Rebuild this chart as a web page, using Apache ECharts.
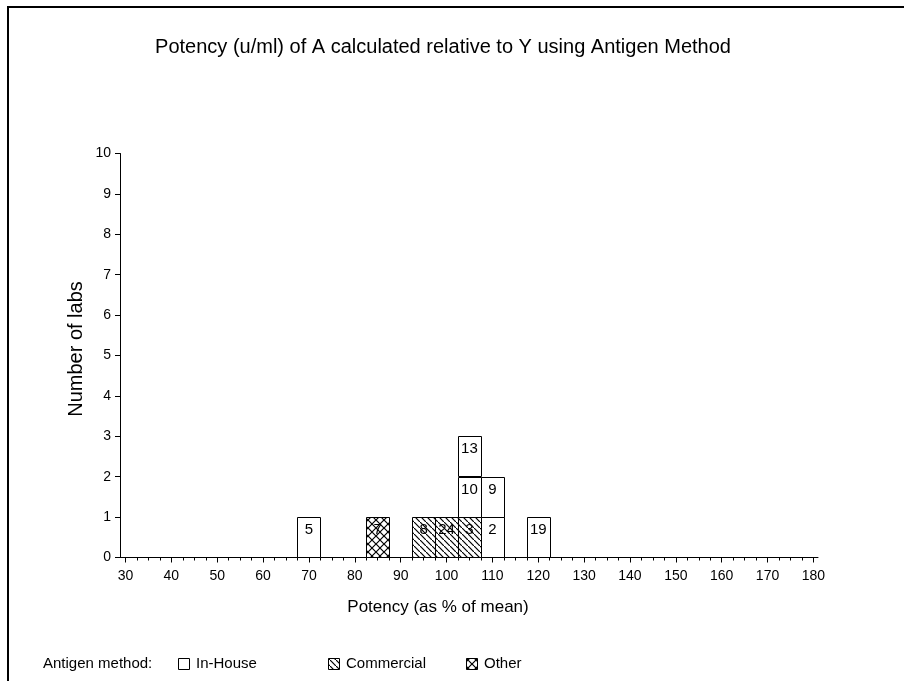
<!DOCTYPE html>
<html>
<head>
<meta charset="utf-8">
<script src="https://cdn.jsdelivr.net/npm/echarts@6/dist/echarts.min.js"></script>
<style>
  html, body { margin: 0; padding: 0; background: #fff; }
  #chart { width: 904px; height: 681px; }
</style>
</head>
<body>
<div id="chart"></div>
<script>
// lab numbers, potency bin centre (% of mean) and antigen method of each lab
var labs = ['5', '7', '8', '24', '3', '10', '13', '2', '9', '19'];
var potency = [70, 85, 95, 100, 105, 105, 105, 110, 110, 120];
var method = ['In-House', 'Other', 'Commercial', 'Commercial', 'Commercial',
              'In-House', 'In-House', 'In-House', 'In-House', 'In-House'];
var methods = ['In-House', 'Commercial', 'Other'];
var binWidth = 5;
var xTicks = [30, 40, 50, 60, 70, 80, 90, 100, 110, 120, 130, 140, 150, 160, 170, 180];

var FONT = 'Liberation Sans, Arial, sans-serif';

// minor ticks every 2.5
var minorTicks = [];
for (var t = 30; t <= 180; t += 2.5) minorTicks.push(t);

// hatch fills
function makeHatch(cross) {
    var s = cross ? 8 : 6;
    var c = document.createElement('canvas');
    c.width = s; c.height = s;
    var g = c.getContext('2d');
    g.fillStyle = '#fff';
    g.fillRect(0, 0, s, s);
    g.strokeStyle = '#000';
    g.lineWidth = 1.2;
    g.beginPath();
    g.moveTo(-1, -1); g.lineTo(s + 1, s + 1);
    if (cross) { g.moveTo(s + 1, -1); g.lineTo(-1, s + 1); }
    g.stroke();
    return { image: c, repeat: 'repeat' };
}
var fills = {
    'In-House': '#fff',
    'Commercial': makeHatch(false),
    'Other': makeHatch(true)
};

// stack the boxes: each lab sits on top of the ones before it in the same bin
var boxData = [];
var count = {};
for (var i = 0; i < labs.length; i++) {
    var lv = count[potency[i]] || 0;
    count[potency[i]] = lv + 1;
    boxData.push([potency[i], lv, i]);
}

function renderBox(params, api) {
    var x = api.value(0), lv = api.value(1), idx = api.value(2);
    var p0 = api.coord([x - binWidth / 2, lv + 1]);
    var p1 = api.coord([x + binWidth / 2, lv]);
    return {
        type: 'group',
        children: [{
            type: 'rect',
            shape: { x: Math.round(p0[0]) + 0.5, y: Math.round(p0[1]) + 0.5,
                     width: Math.round(p1[0] - p0[0]), height: Math.round(p1[1] - p0[1]) },
            style: { fill: fills[method[idx]], stroke: '#000', lineWidth: 1 }
        }, {
            type: 'text',
            style: { text: labs[idx], x: (p0[0] + p1[0]) / 2, y: p0[1] + 13,
                     align: 'center', verticalAlign: 'middle',
                     fontSize: 15, fontFamily: FONT, fill: '#000' }
        }]
    };
}

var myChart = echarts.init(document.getElementById('chart'));

var legendX = [178, 328, 466];
var legendGraphics = [{
    type: 'text', x: 43, y: 664,
    style: { text: 'Antigen method:', fontSize: 15, fontFamily: FONT, fill: '#000',
             verticalAlign: 'middle' }
}];
for (var k = 0; k < methods.length; k++) {
    legendGraphics.push({
        type: 'rect',
        shape: { x: legendX[k] + 0.5, y: 658.5, width: 11, height: 11 },
        style: { fill: fills[methods[k]], stroke: '#000', lineWidth: 1 }
    });
    legendGraphics.push({
        type: 'text', x: legendX[k] + 18, y: 664,
        style: { text: methods[k], fontSize: 15, fontFamily: FONT, fill: '#000',
                 verticalAlign: 'middle' }
    });
}

var option = {
    backgroundColor: '#fff',
    animation: false,
    textStyle: { fontFamily: FONT, color: '#000' },
    grid: { left: 120, right: 86, top: 153.5, bottom: 123.5, containLabel: false },
    xAxis: [{
        type: 'value',
        min: 28.8,
        max: 181,
        axisLine: { show: true, lineStyle: { color: '#000', width: 1 } },
        axisTick: { show: true, length: 5, customValues: xTicks, lineStyle: { color: '#000' } },
        axisLabel: { show: true, margin: 12, fontSize: 14, color: '#000', customValues: xTicks },
        splitLine: { show: false }
    }, {
        // minor ticks
        type: 'value',
        position: 'bottom',
        min: 28.8,
        max: 181,
        axisLine: { show: false },
        axisTick: { show: true, length: 3, customValues: minorTicks, lineStyle: { color: '#000' } },
        axisLabel: { show: false },
        splitLine: { show: false }
    }],
    yAxis: {
        type: 'value',
        min: 0,
        max: 10,
        interval: 1,
        axisLine: { show: true, lineStyle: { color: '#000', width: 1 } },
        axisTick: { show: true, length: 5, lineStyle: { color: '#000' } },
        axisLabel: { margin: 9, fontSize: 14, color: '#000' },
        splitLine: { show: false }
    },
    series: [{
        type: 'custom',
        renderItem: renderBox,
        xAxisIndex: 0,
        encode: { x: 0, y: 1 },
        data: boxData,
        clip: false
    }],
    graphic: [{
        type: 'rect',
        shape: { x: 8, y: 7, width: 1000, height: 1000 },
        style: { fill: 'none', stroke: '#000', lineWidth: 2 },
        silent: true
    }, {
        type: 'text', x: 443, y: 47,
        style: { text: 'Potency (u/ml) of A calculated relative to Y using Antigen Method',
                 align: 'center', verticalAlign: 'middle', fontSize: 20, fontFamily: FONT, fill: '#000' }
    }, {
        type: 'text', x: 438, y: 607,
        style: { text: 'Potency (as % of mean)', align: 'center', verticalAlign: 'middle',
                 fontSize: 17, fontFamily: FONT, fill: '#000' }
    }, {
        type: 'text', x: 76, y: 349, rotation: Math.PI / 2,
        style: { text: 'Number of labs', align: 'center', verticalAlign: 'middle',
                 fontSize: 20, fontFamily: FONT, fill: '#000' }
    }].concat(legendGraphics)
};

myChart.setOption(option);
</script>
</body>
</html>
